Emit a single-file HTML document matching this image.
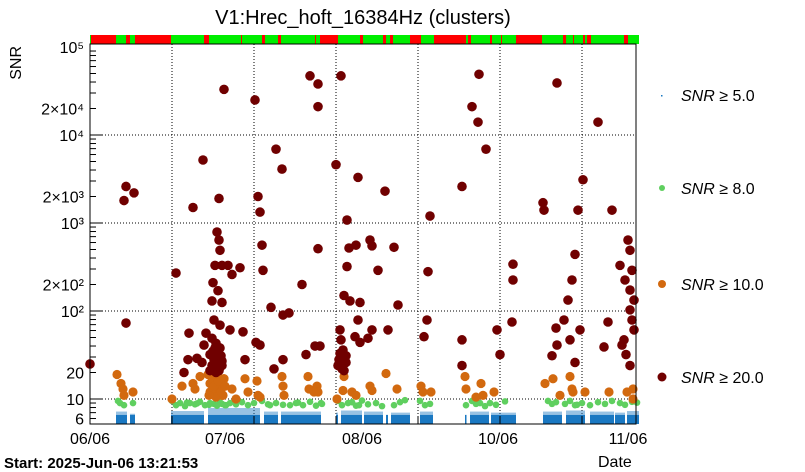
<!DOCTYPE html>
<html><head><meta charset="utf-8"><style>
html,body{margin:0;padding:0;background:#fff;}
svg{display:block;font-family:"Liberation Sans",sans-serif;}
</style></head><body>
<svg id="chart" width="805" height="472" viewBox="0 0 805 472">
<text x="363" y="24" font-size="20" text-anchor="middle">V1:Hrec_hoft_16384Hz (clusters)</text>
<text transform="translate(21,46) rotate(-90)" font-size="16" text-anchor="end">SNR</text>
<g id="status"></g>
<g id="grid"></g>
<g id="marks"></g>
<rect x="90" y="44" width="546" height="380" fill="none" stroke="#000" stroke-width="1"/>
<g id="axes"></g>
<text x="4" y="468" font-size="15" font-weight="bold">Start: 2025-Jun-06 13:21:53</text>
<text x="598" y="467" font-size="16">Date</text>
<g>
<g><rect x="661" y="95" width="1.5" height="1.5" fill="#1a78c2"/><text x="681" y="101" font-size="16"><tspan font-style="italic">SNR</tspan> ≥ 5.0</text></g>
<g><circle cx="662" cy="188" r="3" fill="#5fcf5f"/><text x="681" y="194" font-size="16"><tspan font-style="italic">SNR</tspan> ≥ 8.0</text></g>
<g><circle cx="662" cy="284" r="4" fill="#d2690f"/><text x="681" y="290" font-size="16"><tspan font-style="italic">SNR</tspan> ≥ 10.0</text></g>
<g><circle cx="662" cy="377" r="4.5" fill="#700000"/><text x="681" y="383" font-size="16"><tspan font-style="italic">SNR</tspan> ≥ 20.0</text></g>
</g>
</svg>
<script>
// x in days since start; y = SNR
const xTickLabels = ["06/06","07/06","08/06","10/06","11/06"];
const xTickDays = [0, 33.75, 68, 102, 134.5];
const gridDays = [20.5, 41, 61.5, 82, 102.5, 123];
const yTickLabels = ["10⁵","2×10⁴","10⁴","2×10³","10³","2×10²","10²","20","10","6"];
const yTickValues = [100000,20000,10000,2000,1000,200,100,20,10,6];
const statusRed = [[0.25,6.5],[9,10],[11.25,20.25],[28.5,29.75],[37.75,38],[43,43.75],[47,47.75],[56.25,56.5],[57.5,62],[67.5,68.25],[73.25,74],[75,75.75],[80,82.75],[86,94],[94.5,95.25],[100,100.5],[102.75,103],[106.5,113],[118.25,119],[120.75,121],[123.25,123.75],[124.25,125.25],[133.5,134.5]];
const blueSegments = [[6.5,9.25,7.2],[10,11.25,6.8],[20.25,28.5,7.3],[29.5,42.5,7.9],[43.5,47,7.2],[47.75,57.75,7.2],[61.5,62,7],[62.75,68,7.4],[68.5,73.25,7.2],[74,74.5,6.6],[75.25,80,7],[82.5,85.75,7.2],[93.75,94,6.6],[95,99.75,7.2],[100.25,106.5,7],[113.25,118,7.2],[119,123.75,7.4],[125,131,7.2],[131.25,133.75,7],[134.25,137.25,7.3]];
const greenDays = [7,7.5,8.5,10.75,20.5,21.5,22.5,23.75,25,26.25,27.5,28.75,30,31,32.5,34,35,36.5,38,39.5,41,43,45,46.5,48.25,50,51.5,53.25,55,56.5,57.75,62,63,64.5,66.5,68,69.5,71.5,73,76,77.5,78.75,82.5,83.75,85,94,95.5,96.5,98.75,100,101.5,103.75,114.5,115.5,116.5,118.75,120,121.25,123,125,127,128.75,130.5,132.5,133.75,135.5,136.75,29.75,31.75,33,33.75,24.25,26.75,44.5,52,58,65.5,67.25,97.5,121.75];
const greenSNR = [9.5,9,8.5,9,9.5,8.5,9,8.3,9,8.7,9.3,8.5,9,8.8,9.2,8.5,9,8.7,9.2,8.5,9,9.5,8.5,9,8.6,8.5,9,8.5,9.3,8.4,9,9.5,8.5,9,8.4,9.6,8.7,9,8.3,8.5,9.2,9.7,9.5,8.5,8.8,8.5,9.5,8.8,8.3,9,8.6,9.4,9.5,8.8,9.2,8.8,9.5,8.5,9,8.5,9.2,8.8,9.5,9,8.6,9.3,9.1,8.6,8.4,8.8,8.5,9.1,8.9,8.7,9.1,8.8,9.2,8.5,9,8.6];
const orangeDays = [6.75,7.75,8.25,8.5,10.75,20.5,23,25.75,26.25,27.5,29.5,30.5,31.5,32.5,33.5,30,33,31,32,35.5,36.5,38.75,39.5,41.75,42,42.5,48,48.25,48.5,54.5,54.75,56.75,57,56,61.75,63.5,63.25,65.5,66.5,70,70.5,74,76.75,82.75,83.25,85.25,93.75,94,96.5,97.75,98.25,101,113.75,115.75,117.5,120,120.5,120.75,123.75,129.75,134.25,135.75,135.75,30,30.75,31.25,31.75,32.25,32.75,33.25,30.25,31,31.5,32,32.75,33.5,29.75,33.75];
const orangeSNR = [19,15,13,11,12,10,14,15,13,18,19,16,14,12,17,12,11,13,18,13,10,17,12,16,11,10.5,18,14,11,18,13,14,12,12,10,18,12.5,12,11,14,12.5,19.5,13,14,12,12,18,13,10.5,15,11,12,15,17,11,18,13,12,12,12,12,13,10,15,17,11,19,15,13,11,12,14,10.5,16,12,17,11,14,10.5];
const redDays = [0,8.5,9,11,9,21.5,25.75,28.25,33.5,31.75,32.25,32.5,31.25,33,30.75,32,30.5,33,31,32.5,30.5,31.5,32.5,30,31,32,33,30,31.5,29,35,35.5,34.5,37.5,38.25,38.75,24.75,24.5,23.5,26.75,28,28.5,32.25,41.25,42,42.5,43,43.25,41.5,42.5,45.25,46,46.5,48,48.25,48.25,49.75,53,54,55,57,57,57,56.25,57.5,61.5,62.75,62.5,62.75,63.25,62.25,64,63.5,64.25,64.75,66.5,64.25,67,65,67.5,67,70.5,70,72,73.75,76,77,66.25,67.5,69.5,70.5,74.5,85,84.5,84.25,83.5,93,93,93,95.5,97,97.25,99,101.75,102.5,105.75,105.75,105.5,113.25,113.5,116.5,116.75,115.5,118.5,119.5,120.5,121.25,121.25,122.5,122,123.25,116.75,120,127,130.5,128.5,129.5,132.5,134.5,135,135.5,135,135,135.5,136,133,134,135,133.5,133.75,136,30.5,31,31.5,32,32.5,33,30.75,31.75,32.75,31.25,32.25,62,63,64,62.5,63.5];
const redSNR = [25,1800,2600,2200,73,270,1500,5200,33000,790,640,490,330,330,210,170,130,125,79,69,49,43,38,32,28,26,24,21,20,56,61,260,330,310,58,28,56,28,20,29,26,41,1900,25000,2000,1330,560,290,44,41,110,22,6900,4100,90,28,95,200,32,47000,38000,21000,510,40,40,4600,47000,61,47,36,28,31,150,320,520,560,1080,3300,130,125,79,550,640,290,2300,530,117,51,44,49,61,61,1200,280,79,51,2600,47,24,21000,14000,49000,6900,61,32,340,225,75,1700,1400,64,41,31,79,133,225,440,26,61,1400,3100,39000,47,14000,1400,39,75,330,640,490,290,173,103,79,61,41,32,24,47,225,133,24,22,26,30,23,27,35,33,31,38,21,24,22,26,33,21];

const NS='http://www.w3.org/2000/svg';
const X0=90, PXD=4, Y10=399, DEC=88, YB=424;
function xs(d){return X0+d*PXD;}
function ys(v){return Y10-DEC*Math.log10(v/10);}
function mk(tag,attrs,parent){const e=document.createElementNS(NS,tag);for(const k in attrs)e.setAttribute(k,attrs[k]);parent.appendChild(e);return e;}
const gS=document.getElementById('status'),gG=document.getElementById('grid'),gM=document.getElementById('marks'),gA=document.getElementById('axes');

let bg=mk('rect',{x:90,y:35,width:549,height:9,fill:'#00ee00'},gS);


statusRed.forEach(s=>{const r=mk('rect',{x:xs(s[0]),y:35,width:(s[1]-s[0])*PXD,height:9,fill:'#ff0000'},gS);

});

gridDays.forEach(d=>{const l=mk('line',{x1:xs(d),x2:xs(d),y1:44,y2:424,stroke:'#000','stroke-dasharray':'1 2','stroke-width':1},gG);

});
[10,100,1000,10000].forEach(v=>{const l=mk('line',{x1:90,x2:636,y1:ys(v),y2:ys(v),stroke:'#000','stroke-dasharray':'1 2','stroke-width':1},gG);

});

blueSegments.forEach(s=>{
 const x=xs(s[0]),w=Math.max((s[1]-s[0])*PXD,1.5);
 const a=mk('rect',{x:x,y:ys(s[2]),width:w,height:ys(6.6)-ys(s[2]),fill:'#1a78c2','fill-opacity':0.45},gM);
 
 
 const b=mk('rect',{x:x,y:ys(6.6),width:w,height:YB-ys(6.6),fill:'#1a78c2'},gM);
 
 
});
greenDays.forEach((d,i)=>{const c=mk('circle',{cx:xs(d),cy:ys(greenSNR[i]),r:3.3,fill:'#5fcf5f'},gM);

});
orangeDays.forEach((d,i)=>{const c=mk('circle',{cx:xs(d),cy:ys(orangeSNR[i]),r:4.6,fill:'#d2690f'},gM);

});
redDays.forEach((d,i)=>{const c=mk('circle',{cx:xs(d),cy:ys(redSNR[i]),r:4.8,fill:'#700000'},gM);

});

for(let dec=0;dec<5;dec++){for(let m=1;m<10;m++){const v=Math.pow(10,dec)*m;const y=ys(v);if(y<44||y>424)continue;
 const len=(m===1)?12:6;
 const t=mk('line',{x1:90,x2:90+len,y1:y,y2:y,stroke:'#000'},gA);
 
 }}
yTickLabels.forEach((s,i)=>{const t=mk('text',{x:84,y:ys(yTickValues[i])+6,'font-size':16,'text-anchor':'end'},gA);t.textContent=s;

});
gridDays.forEach(d=>{const t=mk('line',{x1:xs(d),x2:xs(d),y1:424,y2:416,stroke:'#000'},gA);

});
xTickLabels.forEach((s,i)=>{const t=mk('text',{x:xs(xTickDays[i]),y:444,'font-size':16,'text-anchor':'middle'},gA);t.textContent=s;

});
</script>
</body></html>
